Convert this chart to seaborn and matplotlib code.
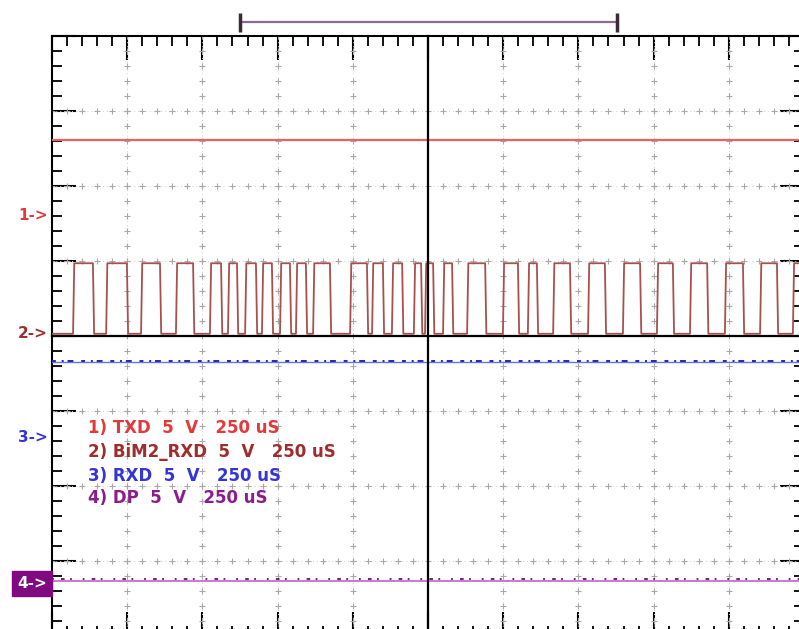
import numpy as np
import matplotlib
matplotlib.use("Agg")
import matplotlib.pyplot as plt
import seaborn as sns

# time base: 10 divisions x 250 uS, 8 vertical divisions
US_PER_DIV = 250
N_XDIV = 10
N_YDIV = 8

# channel 2 (BiM2_RXD) pulse edges in uS: (rise, fall)
ch2_rise = [70, 180, 296, 412, 525, 585, 642, 698, 758, 811, 868, 991, 1064, 1130, 1203,
            1240, 1300, 1380, 1499, 1582, 1666, 1782, 1898, 2011, 2121, 2237, 2354, 2463]
ch2_fall = [136, 249, 359, 469, 562, 615, 678, 731, 791, 844, 924, 1047, 1100, 1164, 1227,
            1267, 1330, 1440, 1549, 1612, 1722, 1838, 1955, 2064, 2178, 2297, 2410, 2520]

# trace levels / marker positions in divisions
ch_names = ["1) TXD  5  V   250 uS", "2) BiM2_RXD  5  V   250 uS",
            "3) RXD  5  V   250 uS", "4) DP  5  V   250 uS"]
ch_markers = ["1->", "2->", "3->", "4->"]
ch_ground = [5.61, 4.03, 2.65, 0.70]
ch_level = [6.61, 4.03, 3.65, 0.73]     # level seen on screen
ch2_high = 4.97
ch_colors = ["#e23a3a", "#a02c2c", "#3434d8", "#8c1c8c"]

zoom_window = (625, 1878)   # bracket at the top, in uS

sns.set_style("white")
plt.rcParams["font.family"] = ["DejaVu Sans"]

fig = plt.figure(figsize=(7.99, 6.29), dpi=100)
pos = [52 / 799, 1 - 636 / 629, 752 / 799, 600 / 629]
ax = fig.add_axes(pos)
t_end = N_XDIV * US_PER_DIV
ax.set_xlim(0, t_end)
ax.set_ylim(0, N_YDIV)

# grid: dotted lines with small crosses on every minor step
for gx in range(N_XDIV + 1):
    ax.axvline(gx * US_PER_DIV, color="#d0d0d0", lw=0.7, ls=(0, (1, 3)), zorder=1)
for gy in range(N_YDIV + 1):
    ax.axhline(gy, color="#d0d0d0", lw=0.7, ls=(0, (1, 3)), zorder=1)
minor_t = np.arange(0, t_end + 1, US_PER_DIV / 5)
minor_v = np.arange(0, N_YDIV + 0.01, 0.2)
xs, ys = [], []
for gx in range(1, N_XDIV):
    if gx == 5:
        continue
    xs += [gx * US_PER_DIV] * len(minor_v)
    ys += list(minor_v)
for gy in range(1, N_YDIV):
    if gy == 4:
        continue
    xs += list(minor_t)
    ys += [gy] * len(minor_t)
ax.scatter(xs, ys, marker="+", s=14, color="#a8a8a8", linewidths=0.8, zorder=1)

# frame ticks
ax.set_xticks(np.arange(0, t_end + 1, US_PER_DIV))
ax.set_xticks(minor_t, minor=True)
ax.set_yticks(np.arange(0, N_YDIV + 1, 1))
ax.set_yticks(minor_v, minor=True)
ax.tick_params(which="both", direction="in", top=True, right=True, bottom=True, left=True,
               labelbottom=False, labelleft=False, color="black")
ax.tick_params(which="major", length=17, width=1.5)
ax.tick_params(which="minor", length=7, width=1.3)
for s in ax.spines.values():
    s.set_linewidth(1.5)
    s.set_color("black")

# center cross with ticks
ax2 = fig.add_axes(pos, facecolor="none")
ax2.set_xlim(0, t_end)
ax2.set_ylim(0, N_YDIV)
ax2.spines["left"].set_position(("data", 5 * US_PER_DIV))
ax2.spines["bottom"].set_position(("data", 4))
ax2.spines["top"].set_visible(False)
ax2.spines["right"].set_visible(False)
for k in ["left", "bottom"]:
    ax2.spines[k].set_linewidth(1.6)
    ax2.spines[k].set_color("black")
ax2.set_xticks(np.arange(0, t_end + 1, US_PER_DIV))
ax2.set_xticks(minor_t, minor=True)
ax2.set_yticks(np.arange(0, N_YDIV + 1, 1))
ax2.set_yticks(minor_v, minor=True)
ax2.tick_params(which="both", direction="inout", labelbottom=False, labelleft=False,
                color="black")
ax2.tick_params(which="major", length=24, width=1.5)
ax2.tick_params(which="minor", length=12, width=1.3)

# channel 1: flat high
sns.lineplot(x=[0, t_end], y=[ch_level[0]] * 2, ax=ax, color="#e86464", lw=1.6,
             estimator=None, sort=False, zorder=3)

# channel 2: pulse train
ramp = 4
t2, v2 = [0], [ch_level[1]]
for r, f in zip(ch2_rise, ch2_fall):
    t2 += [r, r + ramp, f, f + ramp]
    v2 += [ch_level[1], ch2_high, ch2_high, ch_level[1]]
t2.append(t_end + 50)
v2.append(ch_level[1])
sns.lineplot(x=t2, y=v2, ax=ax, color="#a85050", lw=1.3, estimator=None, sort=False, zorder=4)

# channel 3 and 4: noisy flat lines
sns.lineplot(x=[0, t_end], y=[ch_level[2]] * 2, ax=ax, color="#7070e8", lw=1.0,
             estimator=None, sort=False, zorder=3)
ax.plot([0, t_end], [ch_level[2] + 0.02] * 2, color="#2424c0", lw=1.4,
        ls=(0, (2, 3, 1, 2, 3, 4)), zorder=3)
sns.lineplot(x=[0, t_end], y=[ch_level[3]] * 2, ax=ax, color="#c060c8", lw=1.2,
             estimator=None, sort=False, zorder=3)
ax.plot([0, t_end], [ch_level[3] + 0.03] * 2, color="#6a106a", lw=1.3,
        ls=(0, (1, 4, 2, 3, 1, 6)), zorder=3)

# zoom bracket on top
yb = 8.19
ax.plot(zoom_window, [yb, yb], color="#8a6a90", lw=1.6, clip_on=False)
ax.vlines(zoom_window, yb - 0.14, yb + 0.12, color="#3a2a3a", lw=2.5, clip_on=False)

# channel markers at the left
for i, (m, g) in enumerate(zip(ch_markers, ch_ground)):
    fy = 1 - (636 - g * 75) / 629
    if i == 3:
        fig.text(32 / 799, fy, m, color="white", fontsize=11, fontweight="bold",
                 ha="center", va="center",
                 bbox=dict(boxstyle="square,pad=0.35", fc="#800880", ec="#800880"))
    else:
        fig.text(18 / 799, fy, m, color=ch_colors[i], fontsize=11, fontweight="bold",
                 ha="left", va="center")

# channel legend text
for i, name in enumerate(ch_names):
    py = [428, 452, 476, 498][i]
    fig.text(88 / 799, 1 - py / 629, name, color=ch_colors[i], fontsize=12,
             fontweight="bold", ha="left", va="center")

fig.savefig("out.png", dpi=100)
